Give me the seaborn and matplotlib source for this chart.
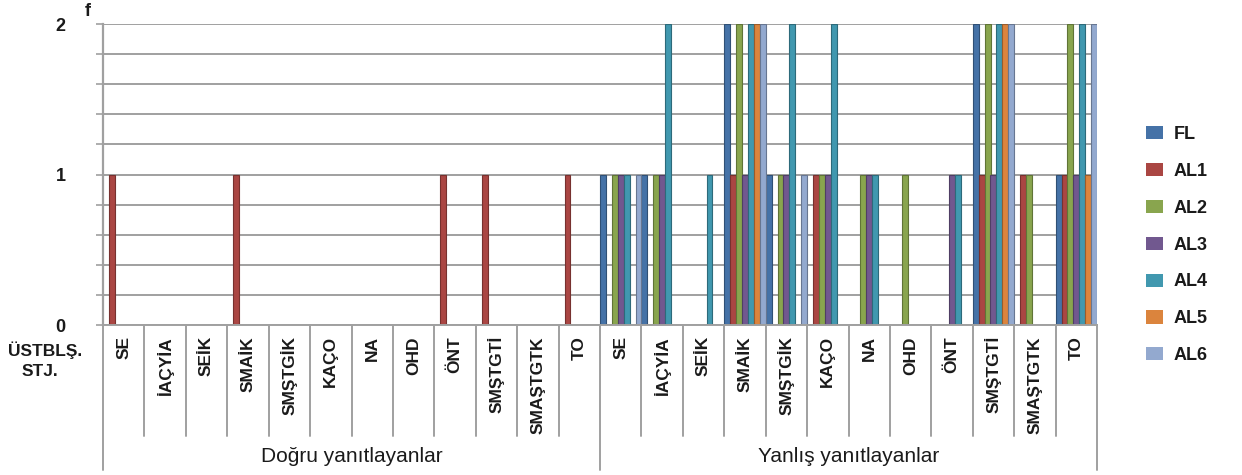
import matplotlib
matplotlib.use("Agg")
import matplotlib.pyplot as plt
from matplotlib.patches import Patch
from matplotlib.ticker import MultipleLocator, FixedLocator
import matplotlib.transforms as mtransforms
import matplotlib.colors as mcolors
import numpy as np
import pandas as pd
import seaborn as sns

# --- data -------------------------------------------------------------
sections = ["Doğru yanıtlayanlar", "Yanlış yanıtlayanlar"]
codes = ["SE", "İAÇYİA", "SEİK", "SMAİK", "SMŞTGİK", "KAÇO",
         "NA", "OHD", "ÖNT", "SMŞTGTİ", "SMAŞTGTK", "TO"]
series_names = ["FL", "AL1", "AL2", "AL3", "AL4", "AL5", "AL6"]

#            Doğru yanıtlayanlar                    Yanlış yanıtlayanlar
fl  = [0, 0, 0, 0, 0, 0, 0, 0, 0, 0, 0, 0,   1, 1, 0, 2, 1, 0, 0, 0, 0, 2, 0, 1]
al1 = [1, 0, 0, 1, 0, 0, 0, 0, 1, 1, 0, 1,   0, 0, 0, 1, 0, 1, 0, 0, 0, 1, 1, 1]
al2 = [0, 0, 0, 0, 0, 0, 0, 0, 0, 0, 0, 0,   1, 1, 0, 2, 1, 1, 1, 1, 0, 2, 1, 2]
al3 = [0, 0, 0, 0, 0, 0, 0, 0, 0, 0, 0, 0,   1, 1, 0, 1, 1, 1, 1, 0, 1, 1, 0, 1]
al4 = [0, 0, 0, 0, 0, 0, 0, 0, 0, 0, 0, 0,   1, 2, 1, 2, 2, 2, 1, 0, 1, 2, 0, 2]
al5 = [0, 0, 0, 0, 0, 0, 0, 0, 0, 0, 0, 0,   0, 0, 0, 2, 0, 0, 0, 0, 0, 2, 0, 1]
al6 = [0, 0, 0, 0, 0, 0, 0, 0, 0, 0, 0, 0,   1, 0, 0, 2, 1, 0, 0, 0, 0, 2, 0, 2]
series_values = [fl, al1, al2, al3, al4, al5, al6]

colors = ["#4572A7", "#AA4643", "#89A54E", "#71588F",
          "#4198AF", "#DB843D", "#93A9CF"]

# --- long table ---------------------------------------------------------
keys = [f"{s}|{c}" for s in sections for c in codes]
rows = []
for name, vals in zip(series_names, series_values):
    for k, v in zip(keys, vals):
        rows.append({"key": k, "series": name, "f": v})
df = pd.DataFrame(rows)

# --- figure -------------------------------------------------------------
sns.set_theme(style="white")
plt.rcParams["font.family"] = ["Liberation Sans", "DejaVu Sans"]

W, H = 1242, 475
fig = plt.figure(figsize=(W / 100, H / 100), dpi=100)
x0, x1, ytop, ybot = 103, 1097, 24, 325
ax = fig.add_axes([x0 / W, 1 - ybot / H, (x1 - x0) / W, (ybot - ytop) / H])

sns.barplot(data=df, x="key", y="f", hue="series", order=keys,
            hue_order=series_names, palette=colors, width=1.0, gap=0,
            dodge=True, errorbar=None, legend=False, saturation=1, ax=ax)

# shaded edges on bars, hide empty ones
for p in ax.patches:
    if p.get_height() == 0:
        p.set_visible(False)
    else:
        fc = np.array(mcolors.to_rgb(p.get_facecolor()))
        p.set_edgecolor(tuple(fc * 0.7))
        p.set_linewidth(0.8)

ax.set_xlim(-0.5, len(keys) - 0.5)
ax.set_ylim(0, 2)
ax.yaxis.set_major_locator(FixedLocator([0, 1, 2]))
ax.yaxis.set_minor_locator(MultipleLocator(0.2))
grid_c = "#A0A0A0"
ax.grid(True, which="both", axis="y", color=grid_c, linewidth=1.4)
ax.set_axisbelow(True)
ax.tick_params(axis="y", which="both", left=True, length=5, width=1.2,
               color=grid_c, pad=22)
ax.set_yticklabels(["0", "1", "2"], fontsize=13, fontweight="bold",
                   color="#1a1a1a")
for side in ["top", "right"]:
    ax.spines[side].set_visible(False)
ax.spines["left"].set_color(grid_c)
ax.spines["left"].set_linewidth(1.6)
ax.spines["bottom"].set_color(grid_c)
ax.spines["bottom"].set_linewidth(1.4)

ax.set_xlabel("")
ax.set_ylabel("")
ax.set_xticks(range(len(keys)))
ax.set_xticklabels([c for s in sections for c in codes], rotation=90,
                   fontsize=12.5, fontweight="bold", color="#1a1a1a",
                   va="top", ha="center")
ax.tick_params(axis="x", length=0, pad=8)

# hierarchical category separators
trans = mtransforms.blended_transform_factory(ax.transData, ax.transAxes)
plot_h = ybot - ytop
inner_end = -(436 - ybot) / plot_h
outer_end = -(470 - ybot) / plot_h
n = len(codes)
for i in range(len(keys) + 1):
    xb = i - 0.5
    end = outer_end if i % n == 0 else inner_end
    ax.plot([xb, xb], [0, end], transform=trans, color=grid_c,
            linewidth=1.4, clip_on=False)

# section labels
for j, s in enumerate(sections):
    xc = j * n + (n - 1) / 2
    ax.text(xc, -(457 - ybot) / plot_h, s, transform=trans, ha="center",
            va="center", fontsize=15, color="#1a1a1a")

# axis captions
fig.text(88 / W, 1 - 11 / H, "f", fontsize=13, fontweight="bold",
         ha="center", va="center", color="#1a1a1a")
fig.text(8 / W, 1 - 350 / H, "ÜSTBLŞ.", fontsize=12.5, fontweight="bold",
         ha="left", va="center", color="#1a1a1a")
fig.text(22 / W, 1 - 372 / H, "STJ.", fontsize=12.5, fontweight="bold",
         ha="left", va="center", color="#1a1a1a")

# legend
handles = [Patch(facecolor=c, edgecolor="none") for c in colors]
fig.legend(handles, series_names, loc="upper left",
           bbox_to_anchor=(1146 / W, 1 - 126 / H), frameon=False,
           borderpad=0, borderaxespad=0, handlelength=0.95, handleheight=0.75,
           handletextpad=0.6, labelspacing=1.1,
           prop={"size": 13, "weight": "bold"}, labelcolor="#1a1a1a")

fig.savefig("out.png", dpi=100)
